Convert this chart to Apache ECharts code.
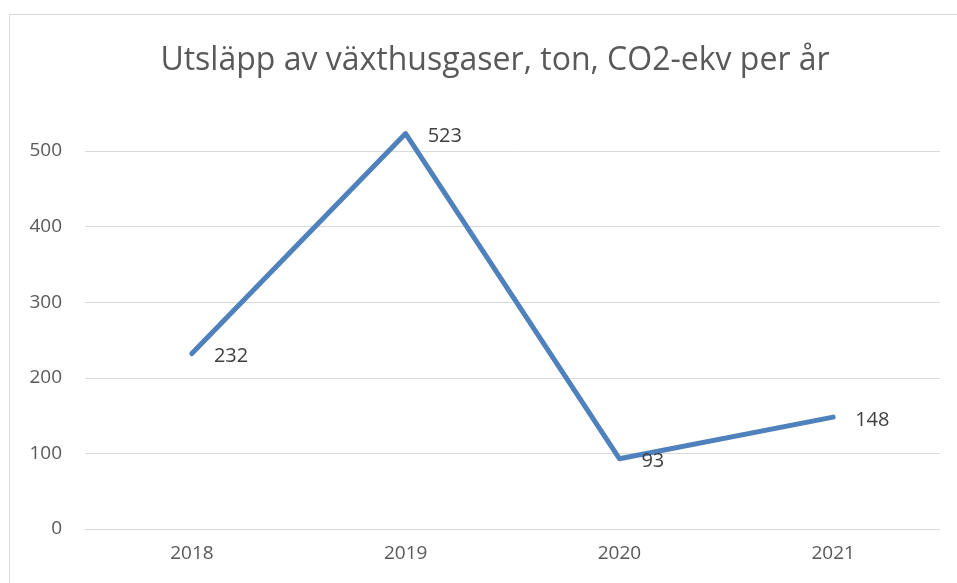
<!DOCTYPE html>
<html>
<head>
<meta charset="utf-8">
<script src="https://cdn.jsdelivr.net/npm/echarts@6/dist/echarts.min.js"></script>
<style>
  html, body { margin: 0; padding: 0; background: #fff; }
  #chart { width: 957px; height: 583px; }
</style>
</head>
<body>
<div id="chart"></div>
<script>
// data
const years = ['2018', '2019', '2020', '2021'];
const emissions = [232, 523, 93, 148];
const yTicks = [0, 100, 200, 300, 400, 500];

const chart = echarts.init(document.getElementById('chart'));
const font = '"Open Sans", Lato, sans-serif';

const option = {
    backgroundColor: '#fff',
    animation: false,
    graphic: [{
        type: 'rect',
        shape: { x: 9.5, y: 14.5, width: 980, height: 600 },
        style: { fill: 'none', stroke: '#d9d9d9', lineWidth: 1 },
        silent: true
    }],
    title: {
        text: 'Utsläpp av växthusgaser, ton, CO2-ekv per år',
        left: 490,
        textAlign: 'center',
        top: 40,
        textStyle: { color: '#595959', fontSize: 32, fontWeight: 'normal', fontFamily: font }
    },
    grid: { left: 85, right: 17, top: 151, bottom: 54 },
    xAxis: {
        type: 'category',
        data: years,
        boundaryGap: true,
        axisLine: { lineStyle: { color: '#d9d9d9', width: 1 } },
        axisTick: { show: false },
        axisLabel: { color: '#595959', fontSize: 19, fontFamily: font, margin: 15 }
    },
    yAxis: {
        type: 'value',
        min: yTicks[0],
        max: yTicks[yTicks.length - 1],
        interval: 100,
        axisLine: { show: false },
        axisTick: { show: false },
        axisLabel: { color: '#595959', fontSize: 19, fontFamily: font, margin: 23 },
        splitLine: { lineStyle: { color: '#d9d9d9', width: 1 } }
    },
    series: [{
        type: 'line',
        data: emissions,
        clip: false,
        symbol: 'circle',
        symbolSize: 2,
        showSymbol: true,
        itemStyle: { color: 'rgba(0,0,0,0)' },
        lineStyle: { color: '#4f81bd', width: 5, cap: 'round', join: 'round' },
        label: {
            show: true,
            position: 'right',
            distance: 21,
            offset: [0, 3],
            color: '#404040',
            fontSize: 20,
            fontFamily: font
        }
    }]
};

chart.setOption(option);
window.addEventListener('resize', function () {
    chart.resize();
});
</script>
</body>
</html>
